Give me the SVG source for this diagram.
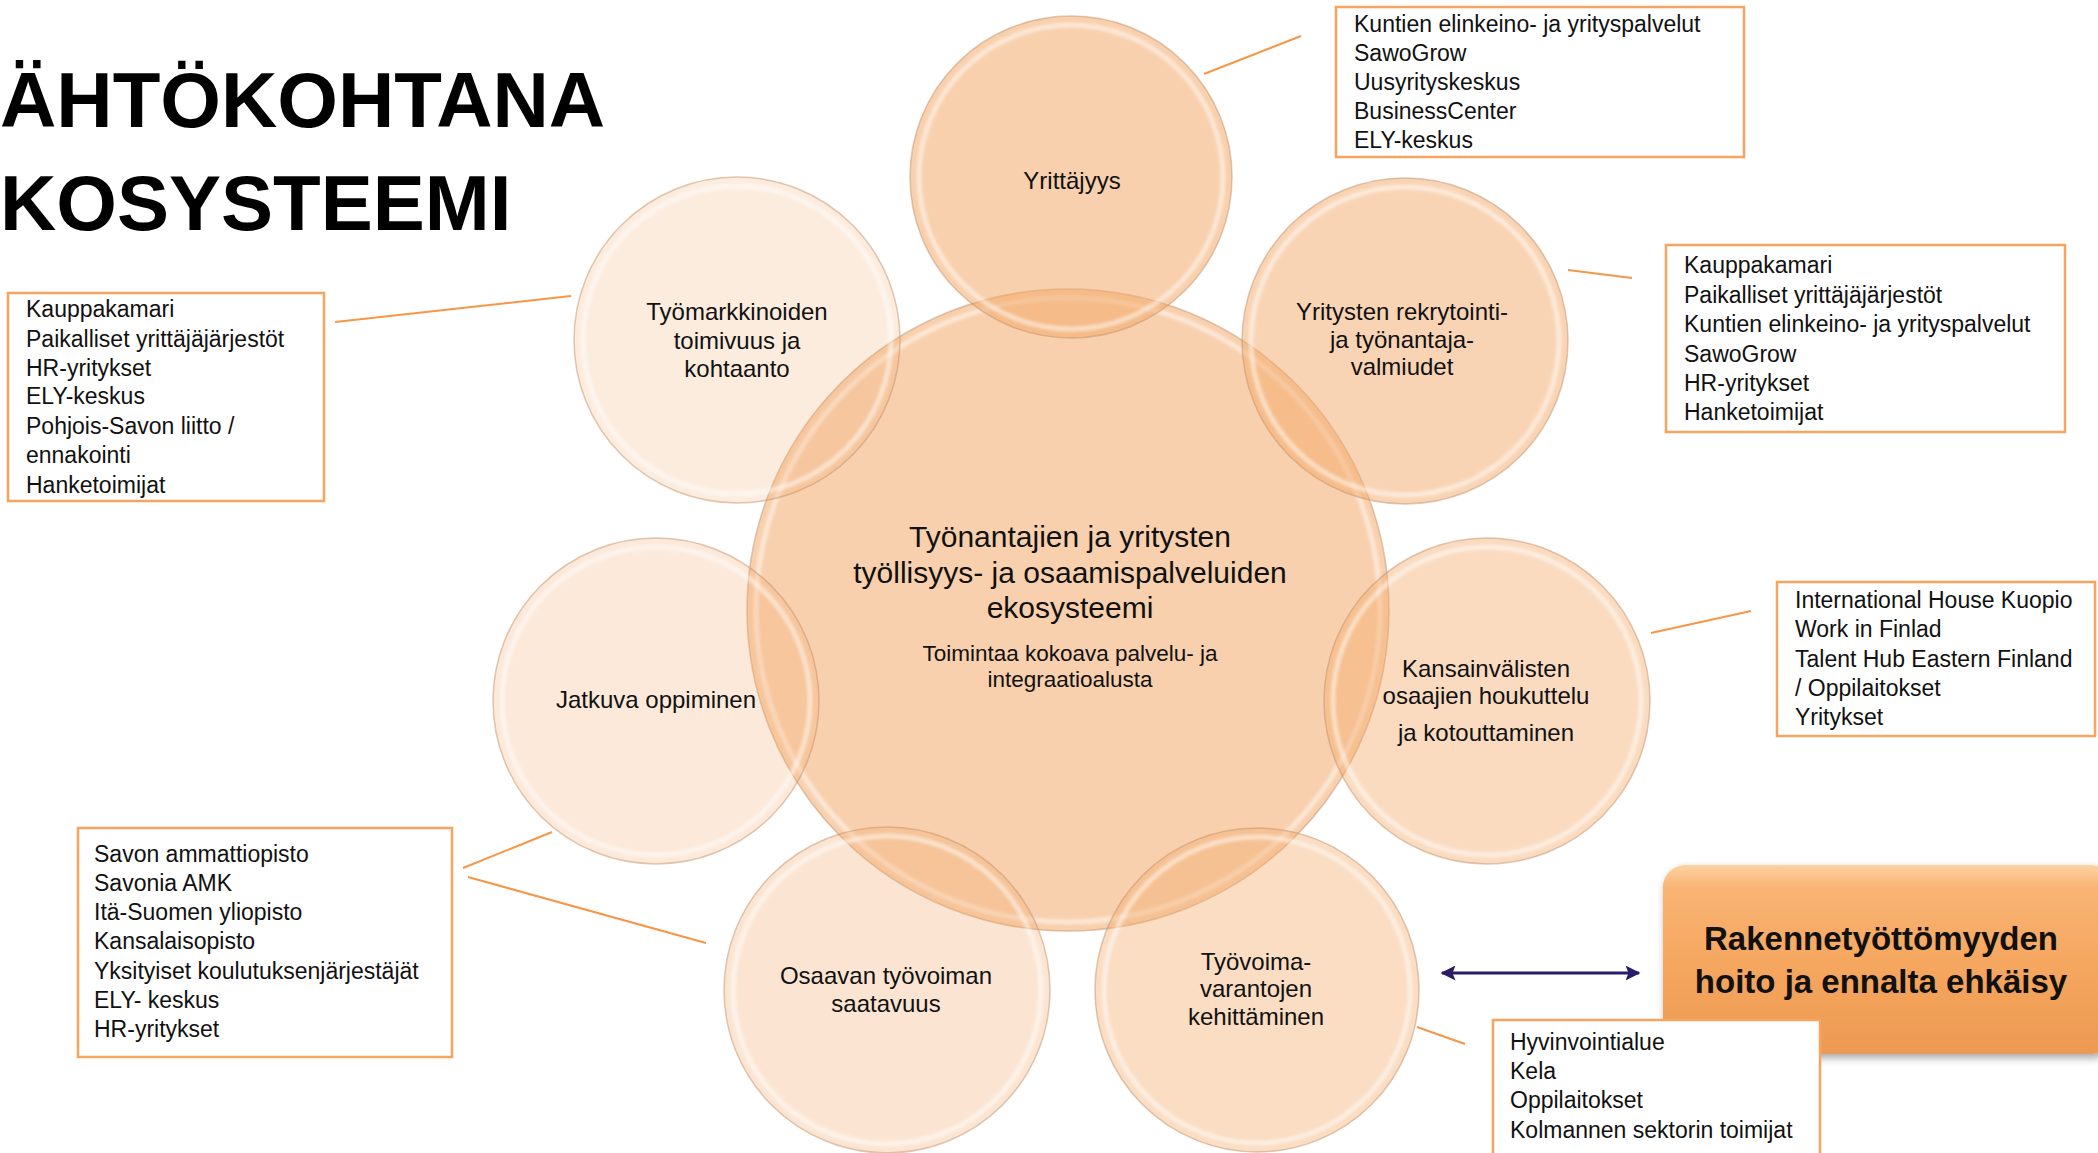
<svg xmlns="http://www.w3.org/2000/svg" width="2098" height="1153" viewBox="0 0 2098 1153">
<style>
  .t { font-family: "Liberation Sans", Arial, sans-serif; fill: #111; }
  .title { font-family: "Liberation Sans", Arial, sans-serif; font-weight: bold; font-size: 78px; fill: #000; }
  .lbl { font-size: 24px; text-anchor: middle; }
  .box { fill: #fff; stroke: #f8a35e; stroke-width: 2.5; }
  .bt { font-size: 23px; }
  .edge { fill: none; stroke: #c4926a; stroke-opacity: 0.5; stroke-width: 1.5; }
  .ring { fill: none; stroke: #fff; stroke-opacity: 0.5; stroke-width: 5; filter: url(#soft); }
  .con { stroke: #f79646; stroke-width: 2; fill: none; }
</style>
<defs>
  <filter id="soft" x="-10%" y="-10%" width="120%" height="120%"><feGaussianBlur stdDeviation="1.5"/></filter>
  <filter id="shadow" x="-10%" y="-10%" width="125%" height="130%">
    <feGaussianBlur in="SourceAlpha" stdDeviation="4"/>
    <feOffset dx="2" dy="4" result="b"/>
    <feComponentTransfer><feFuncA type="linear" slope="0.35"/></feComponentTransfer>
    <feMerge><feMergeNode/><feMergeNode in="SourceGraphic"/></feMerge>
  </filter>
  <linearGradient id="og" x1="0" y1="0" x2="0" y2="1">
    <stop offset="0" stop-color="#fdd2a2"/>
    <stop offset="0.12" stop-color="#f9b474"/>
    <stop offset="0.6" stop-color="#f4a45c"/>
    <stop offset="1" stop-color="#ec9a52"/>
  </linearGradient>
  <marker id="ah" viewBox="0 0 10 10" refX="9" refY="5" markerWidth="5" markerHeight="5" orient="auto-start-reverse">
    <path d="M0,0 L10,5 L0,10 L2,5 z" fill="#2b1b6b"/>
  </marker>
</defs>
<rect width="2098" height="1153" fill="#fff"/>

<g id="title">
  <text class="title" x="0" y="127">ÄHTÖKOHTANA</text>
  <text class="title" x="0" y="230">KOSYSTEEMI</text>
</g>

<g id="center">
  <circle cx="1068" cy="610" r="321" fill="#f3a96a" fill-opacity="0.55"/>
  <circle cx="1068" cy="610" r="312" class="ring"/>
  <circle cx="1068" cy="610" r="321" class="edge"/>
  <text class="t" font-size="30" text-anchor="middle"><tspan x="1070" y="547">Työnantajien ja yritysten</tspan><tspan x="1070" y="583">työllisyys- ja osaamispalveluiden</tspan><tspan x="1070" y="618">ekosysteemi</tspan></text>
  <text class="t" font-size="22.5" text-anchor="middle"><tspan x="1070" y="661">Toimintaa kokoava palvelu- ja</tspan><tspan x="1070" y="687">integraatioalusta</tspan></text>
</g>

<g id="yrittajyys">
  <circle cx="1071" cy="177" r="161" fill="#f3a96a" fill-opacity="0.55"/>
  <circle cx="1071" cy="177" r="152" class="ring"/>
  <circle cx="1071" cy="177" r="161" class="edge"/>
  <text class="t lbl" x="1072" y="189">Yrittäjyys</text>
</g>

<g id="rekrytointi">
  <circle cx="1405" cy="341" r="163" fill="#f3a96a" fill-opacity="0.5"/>
  <circle cx="1405" cy="341" r="154" class="ring"/>
  <circle cx="1405" cy="341" r="163" class="edge"/>
  <text class="t lbl"><tspan x="1402" y="320">Yritysten rekrytointi-</tspan><tspan x="1402" y="348">ja työnantaja-</tspan><tspan x="1402" y="375">valmiudet</tspan></text>
</g>

<g id="kansainvaliset">
  <circle cx="1487" cy="701" r="163" fill="#f3a96a" fill-opacity="0.42"/>
  <circle cx="1487" cy="701" r="154" class="ring"/>
  <circle cx="1487" cy="701" r="163" class="edge"/>
  <text class="t lbl"><tspan x="1486" y="677">Kansainvälisten</tspan><tspan x="1486" y="704">osaajien houkuttelu</tspan><tspan x="1486" y="741">ja kotouttaminen</tspan></text>
</g>

<g id="tyovoimavarannot">
  <circle cx="1257" cy="990" r="162" fill="#f3a96a" fill-opacity="0.4"/>
  <circle cx="1257" cy="990" r="153" class="ring"/>
  <circle cx="1257" cy="990" r="162" class="edge"/>
  <text class="t lbl"><tspan x="1256" y="970">Työvoima-</tspan><tspan x="1256" y="997">varantojen</tspan><tspan x="1256" y="1025">kehittäminen</tspan></text>
</g>

<g id="osaava-tyovoima">
  <circle cx="887" cy="990" r="163" fill="#f3a96a" fill-opacity="0.3"/>
  <circle cx="887" cy="990" r="154" class="ring"/>
  <circle cx="887" cy="990" r="163" class="edge"/>
  <text class="t lbl"><tspan x="886" y="984">Osaavan työvoiman</tspan><tspan x="886" y="1012">saatavuus</tspan></text>
</g>

<g id="jatkuva-oppiminen">
  <circle cx="656" cy="701" r="163" fill="#f3a96a" fill-opacity="0.25"/>
  <circle cx="656" cy="701" r="154" class="ring"/>
  <circle cx="656" cy="701" r="163" class="edge"/>
  <text class="t lbl" x="656" y="708">Jatkuva oppiminen</text>
</g>

<g id="tyomarkkinat">
  <circle cx="737" cy="340" r="163" fill="#f3a96a" fill-opacity="0.22"/>
  <circle cx="737" cy="340" r="154" class="ring"/>
  <circle cx="737" cy="340" r="163" class="edge"/>
  <text class="t lbl"><tspan x="737" y="320">Työmarkkinoiden</tspan><tspan x="737" y="349">toimivuus ja</tspan><tspan x="737" y="377">kohtaanto</tspan></text>
</g>

<g id="connectors">
  <line class="con" x1="1204" y1="74" x2="1301" y2="36"/>
  <line class="con" x1="1568" y1="270" x2="1632" y2="278"/>
  <line class="con" x1="1651" y1="633" x2="1751" y2="611"/>
  <line class="con" x1="1417" y1="1027" x2="1465" y2="1044"/>
  <line class="con" x1="335" y1="322" x2="571" y2="296"/>
  <line class="con" x1="463" y1="868" x2="552" y2="832"/>
  <line class="con" stroke-width="1.5" x1="468" y1="877" x2="706" y2="943"/>
  <line x1="1442" y1="973" x2="1639" y2="973" stroke="#2b1b6b" stroke-width="3" marker-start="url(#ah)" marker-end="url(#ah)"/>
</g>

<g id="box-yrittajyys">
  <rect class="box" x="1336" y="7" width="408" height="150"/>
  <text class="t bt"><tspan x="1354" y="32">Kuntien elinkeino- ja yrityspalvelut</tspan><tspan x="1354" y="61">SawoGrow</tspan><tspan x="1354" y="90">Uusyrityskeskus</tspan><tspan x="1354" y="119">BusinessCenter</tspan><tspan x="1354" y="148">ELY-keskus</tspan></text>
</g>

<g id="box-rekrytointi">
  <rect class="box" x="1666" y="245" width="399" height="187"/>
  <text class="t bt"><tspan x="1684" y="273">Kauppakamari</tspan><tspan x="1684" y="303">Paikalliset yrittäjäjärjestöt</tspan><tspan x="1684" y="332">Kuntien elinkeino- ja yrityspalvelut</tspan><tspan x="1684" y="362">SawoGrow</tspan><tspan x="1684" y="391">HR-yritykset</tspan><tspan x="1684" y="420">Hanketoimijat</tspan></text>
</g>

<g id="box-kansainvaliset">
  <rect class="box" x="1777" y="582" width="318" height="154"/>
  <text class="t bt"><tspan x="1795" y="608">International House Kuopio</tspan><tspan x="1795" y="637">Work in Finlad</tspan><tspan x="1795" y="667">Talent Hub Eastern Finland</tspan><tspan x="1795" y="696">/ Oppilaitokset</tspan><tspan x="1795" y="725">Yritykset</tspan></text>
</g>

<g id="box-tyomarkkinat">
  <rect class="box" x="8" y="293" width="316" height="208"/>
  <text class="t bt"><tspan x="26" y="317">Kauppakamari</tspan><tspan x="26" y="347">Paikalliset yrittäjäjärjestöt</tspan><tspan x="26" y="376">HR-yritykset</tspan><tspan x="26" y="404">ELY-keskus</tspan><tspan x="26" y="434">Pohjois-Savon liitto /</tspan><tspan x="26" y="463">ennakointi</tspan><tspan x="26" y="493">Hanketoimijat</tspan></text>
</g>

<g id="box-oppilaitokset">
  <rect class="box" x="78" y="828" width="374" height="229"/>
  <text class="t bt"><tspan x="94" y="862">Savon ammattiopisto</tspan><tspan x="94" y="891">Savonia AMK</tspan><tspan x="94" y="920">Itä-Suomen yliopisto</tspan><tspan x="94" y="949">Kansalaisopisto</tspan><tspan x="94" y="979">Yksityiset koulutuksenjärjestäjät</tspan><tspan x="94" y="1008">ELY- keskus</tspan><tspan x="94" y="1037">HR-yritykset</tspan></text>
</g>

<g id="rakennetyottomyys">
  <rect x="1663" y="865" width="450" height="189" rx="22" fill="url(#og)" filter="url(#shadow)"/>
  <text class="t" font-weight="bold" font-size="33" text-anchor="middle" fill="#000"><tspan x="1881" y="950">Rakennetyöttömyyden</tspan><tspan x="1881" y="993">hoito ja ennalta ehkäisy</tspan></text>
</g>

<g id="box-tyovoimavarannot">
  <rect class="box" x="1493" y="1020" width="327" height="140"/>
  <text class="t bt"><tspan x="1510" y="1050">Hyvinvointialue</tspan><tspan x="1510" y="1079">Kela</tspan><tspan x="1510" y="1108">Oppilaitokset</tspan><tspan x="1510" y="1138">Kolmannen sektorin toimijat</tspan></text>
</g>
</svg>
